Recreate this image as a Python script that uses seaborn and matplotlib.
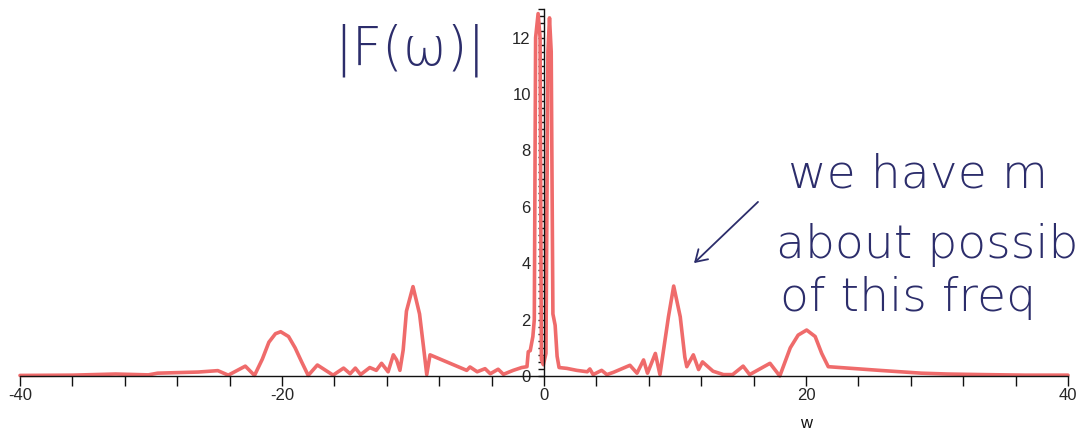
import numpy as np
import pandas as pd
import matplotlib
matplotlib.use("Agg")
import matplotlib.pyplot as plt
from matplotlib.ticker import MultipleLocator, FixedLocator, FuncFormatter
import seaborn as sns

# ---- data ----
w_values = [-40, -36, -32.7, -30.2, -29.5, -26.4, -24.9, -24.1, -22.8, -22.1,
            -21.5, -21.0, -20.5, -20.1, -19.5, -19.0, -18.5, -18.0, -17.3, -16.1,
            -15.3, -14.8, -14.4, -14.0, -13.3, -12.8, -12.4, -11.9, -11.5, -11.25,
            -11.0, -10.75, -10.5, -10.0, -9.5, -9.2, -8.95, -8.7, -5.9, -5.65,
            -5.1, -4.5, -4.1, -3.5, -3.1, -2.35, -1.7, -1.3, -1.2, -1.05,
            -0.85, -0.74, -0.64, -0.45, -0.3, -0.2, -0.05, 0.15, 0.3, 0.42,
            0.55, 0.68, 0.85, 1.0, 1.15, 1.75, 2.5, 3.3, 3.5, 3.75,
            4.4, 4.8, 5.3, 6.56, 7.1, 7.6, 7.9, 8.5, 8.85, 9.5,
            9.9, 10.4, 10.75, 10.9, 11.4, 11.8, 12.1, 12.9, 13.7, 14.4,
            15.2, 15.7, 17.25, 18.0, 18.8, 19.4, 20.05, 20.7, 21.2, 21.7,
            25.6, 28.8, 30.8, 33.5, 36.7, 40]
F_abs = [0.02, 0.03, 0.07, 0.04, 0.10, 0.14, 0.19, 0.03, 0.35, 0.02,
         0.60, 1.20, 1.50, 1.57, 1.40, 1.00, 0.50, 0.02, 0.39, 0.03,
         0.28, 0.08, 0.28, 0.05, 0.30, 0.20, 0.45, 0.15, 0.75, 0.57,
         0.20, 0.92, 2.30, 3.17, 2.20, 1.04, 0.05, 0.75, 0.20, 0.32,
         0.15, 0.26, 0.08, 0.24, 0.06, 0.20, 0.30, 0.33, 0.86, 0.90,
         1.40, 2.00, 12.00, 12.85, 12.00, 0.60, 0.40, 0.80, 11.50, 12.70,
         11.50, 2.20, 1.80, 0.70, 0.30, 0.27, 0.20, 0.15, 0.25, 0.05,
         0.20, 0.05, 0.13, 0.38, 0.10, 0.57, 0.10, 0.80, 0.05, 2.10,
         3.19, 2.10, 0.67, 0.33, 0.75, 0.23, 0.50, 0.17, 0.05, 0.05,
         0.35, 0.05, 0.45, 0.00, 1.00, 1.45, 1.63, 1.40, 0.80, 0.33,
         0.20, 0.10, 0.07, 0.05, 0.03, 0.03]

x_major = [-40, -20, 0, 20, 40]
y_major = [0, 2, 4, 6, 8, 10, 12]
x_label = "w"
title_note = "|F(ω)|"
side_note = ["we have m", "about possib", "of this freq"]

df = pd.DataFrame({"w": w_values, "F": F_abs})

sns.set_style("white")
plt.rcParams["font.family"] = ["Liberation Sans", "DejaVu Sans"]

fig = plt.figure(figsize=(10.83, 4.37), dpi=100)
ax = fig.add_axes([20 / 1083, (437 - 376) / 437, 1048 / 1083, 366.6 / 437])

sns.lineplot(data=df, x="w", y="F", ax=ax, color="#ef6b6b", linewidth=2.6,
             sort=False, clip_on=False, zorder=1)

ax.set_xlim(-40, 40)
ax.set_ylim(0, 13)

for s in ["top", "right"]:
    ax.spines[s].set_visible(False)
ax.spines["left"].set_position(("data", 0))
ax.spines["bottom"].set_position(("data", 0))
for s in ["left", "bottom"]:
    ax.spines[s].set_color("#111111")
    ax.spines[s].set_linewidth(1.0)
    ax.spines[s].set_zorder(3)

ax.xaxis.set_major_locator(FixedLocator(np.arange(-40, 41, 4)))
ax.xaxis.set_major_formatter(FuncFormatter(
    lambda v, p: (f"{int(round(v))}" if int(round(v)) in x_major else "")))
ax.yaxis.set_major_locator(FixedLocator(y_major))
ax.yaxis.set_minor_locator(MultipleLocator(0.25))
ax.tick_params(axis="x", which="major", direction="out", length=7, width=1,
               color="#111111", labelsize=12, pad=2, bottom=True)
ax.tick_params(axis="y", which="major", direction="out", length=4.5, width=1,
               color="#111111", labelsize=12, pad=5, left=True)
ax.tick_params(axis="y", which="minor", direction="out", length=4.5, width=1,
               color="#111111", left=True)
ax.set_xlabel("")
ax.set_ylabel("")

fig.text(806 / 1083, 1 - 423 / 437, x_label, ha="center", va="center",
         fontsize=12, color="#111111")

ink = "#2c2d6b"
fig.text(410 / 1083, 1 - 50 / 437, title_note, ha="center", va="center",
         fontsize=38, color=ink, fontweight="light", family=["DejaVu Sans"])
fig.text(788 / 1083, 1 - 175 / 437, side_note[0], ha="left", va="center",
         fontsize=34, color=ink, family=["DejaVu Sans"], fontweight="light")
fig.text(776 / 1083, 1 - 245 / 437, side_note[1], ha="left", va="center",
         fontsize=34, color=ink, family=["DejaVu Sans"], fontweight="light")
fig.text(780 / 1083, 1 - 298 / 437, side_note[2], ha="left", va="center",
         fontsize=34, color=ink, family=["DejaVu Sans"], fontweight="light")
fig.add_artist(matplotlib.patches.FancyArrowPatch(
    (760 / 1083, 1 - 200 / 437), (692 / 1083, 1 - 265 / 437),
    transform=fig.transFigure, arrowstyle="->,head_length=8,head_width=5",
    color=ink, linewidth=1.3, mutation_scale=1))

fig.savefig("out.png", dpi=100, facecolor="white")
